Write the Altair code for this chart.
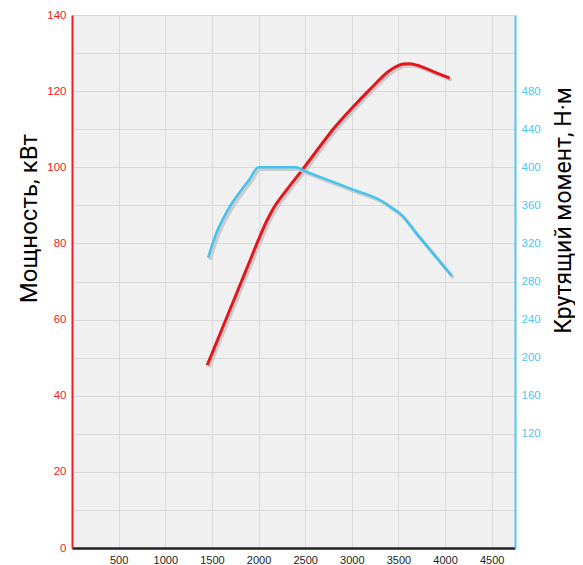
import altair as alt
import pandas as pd

# Power curve (kW)
power_rpm = [1450, 1600, 1750, 1900, 2000, 2080, 2150, 2300, 2475, 2650, 2800, 3000, 3200, 3400, 3480, 3550, 3620, 3700, 3850, 4050]
power_kw = [48, 57, 66, 75, 81, 85.5, 88.8, 94.0, 99.5, 105.2, 110.0, 115.5, 120.6, 125.3, 126.5, 127.1, 127.2, 126.8, 125.4, 123.4]

# Torque curve (N·m)
torque_rpm = [1460, 1540, 1620, 1700, 1800, 1900, 2000, 2400, 2500, 3000, 3330, 3420, 3520, 3700, 4070]
torque_nm = [305, 329, 346, 360, 374, 387, 400, 400, 396, 377, 364, 358, 351, 329.5, 286]

x_ticks = [500, 1000, 1500, 2000, 2500, 3000, 3500, 4000, 4500]
power_ticks = list(range(0, 141, 10))
torque_ticks = [120, 160, 200, 240, 280, 320, 360, 400, 440, 480]

RED = "#e3161e"
RED_AX = "#ee1c25"
CYAN = "#3fc3ef"
CYAN_AX = "#4ec6f2"
SHADOW = "#cbcbcb"
GRID = "#d9d9d9"
TITLE_FONT = "Roboto"
LABEL_FONT = "Liberation Sans"

pdf = pd.DataFrame({"rpm": power_rpm, "kw": power_kw})
tdf = pd.DataFrame({"rpm": torque_rpm, "nm": torque_nm})

x_enc = alt.X(
    "rpm:Q",
    scale=alt.Scale(domain=[0, 4750], nice=False, zero=False),
    axis=alt.Axis(
        values=x_ticks, format="d", grid=True, gridColor=GRID, gridWidth=1,
        domainColor="#222222", domainWidth=2.5, ticks=False,
        labelColor="#222222", labelFontSize=11, labelFont=LABEL_FONT,
        labelPadding=6, title=None,
    ),
)

power_axis = alt.Axis(
    values=power_ticks, format="d", grid=True, gridColor=GRID, gridWidth=1,
    labelExpr="datum.value % 20 == 0 ? datum.label : ''",
    domainColor=RED_AX, domainWidth=2, ticks=False,
    labelColor=RED_AX, labelFontSize=11.5, labelFont=LABEL_FONT, labelPadding=6,
    title="Мощность, кВт", titleFont=TITLE_FONT, titleFontSize=24,
    titleFontWeight="normal", titleColor="#000000",
    titleAngle=270, titleAlign="center", titleBaseline="alphabetic",
    titleX=-36, titleY=203,
)
power_y = alt.Y("kw:Q", scale=alt.Scale(domain=[0, 140], nice=False), axis=power_axis)

torque_axis = alt.Axis(
    orient="right", values=torque_ticks, format="d", grid=False,
    domainColor=CYAN_AX, domainWidth=2, ticks=False,
    labelColor=CYAN_AX, labelFontSize=11.5, labelFont=LABEL_FONT, labelPadding=6,
    title="Крутящий момент, Н·м", titleFont=TITLE_FONT, titleFontSize=23,
    titleFontWeight="normal", titleColor="#000000",
    titleAngle=270, titleAlign="center", titleBaseline="alphabetic",
    titleX=55, titleY=195,
)
torque_y = alt.Y("nm:Q", scale=alt.Scale(domain=[0, 560], nice=False), axis=torque_axis)

power_shadow = alt.Chart(pdf).mark_line(
    color=SHADOW, strokeWidth=3.5, interpolate="monotone", xOffset=2, yOffset=2
).encode(x=x_enc, y=power_y, order="rpm:Q")
power_line = alt.Chart(pdf).mark_line(
    color=RED, strokeWidth=3, interpolate="monotone"
).encode(x=x_enc, y=power_y, order="rpm:Q")

torque_shadow = alt.Chart(tdf).mark_line(
    color=SHADOW, strokeWidth=3.5, interpolate="monotone", xOffset=2, yOffset=2
).encode(x=x_enc, y=torque_y, order="rpm:Q")
torque_line = alt.Chart(tdf).mark_line(
    color=CYAN, strokeWidth=2.5, interpolate="monotone"
).encode(x=x_enc, y=torque_y, order="rpm:Q")

power_layer = alt.layer(power_shadow, power_line)
torque_layer = alt.layer(torque_shadow, torque_line)

chart = alt.layer(power_layer, torque_layer).resolve_scale(y="independent").properties(
    width=443, height=533,
    autosize=alt.AutoSizeParams(type="none"),
    padding={"left": 64, "top": 7, "right": 60, "bottom": 20},
    background="#ffffff",
).configure_view(fill="#f0f0f0", stroke=None)

chart.save("out.html", embed_options={"renderer": "svg", "actions": False})
